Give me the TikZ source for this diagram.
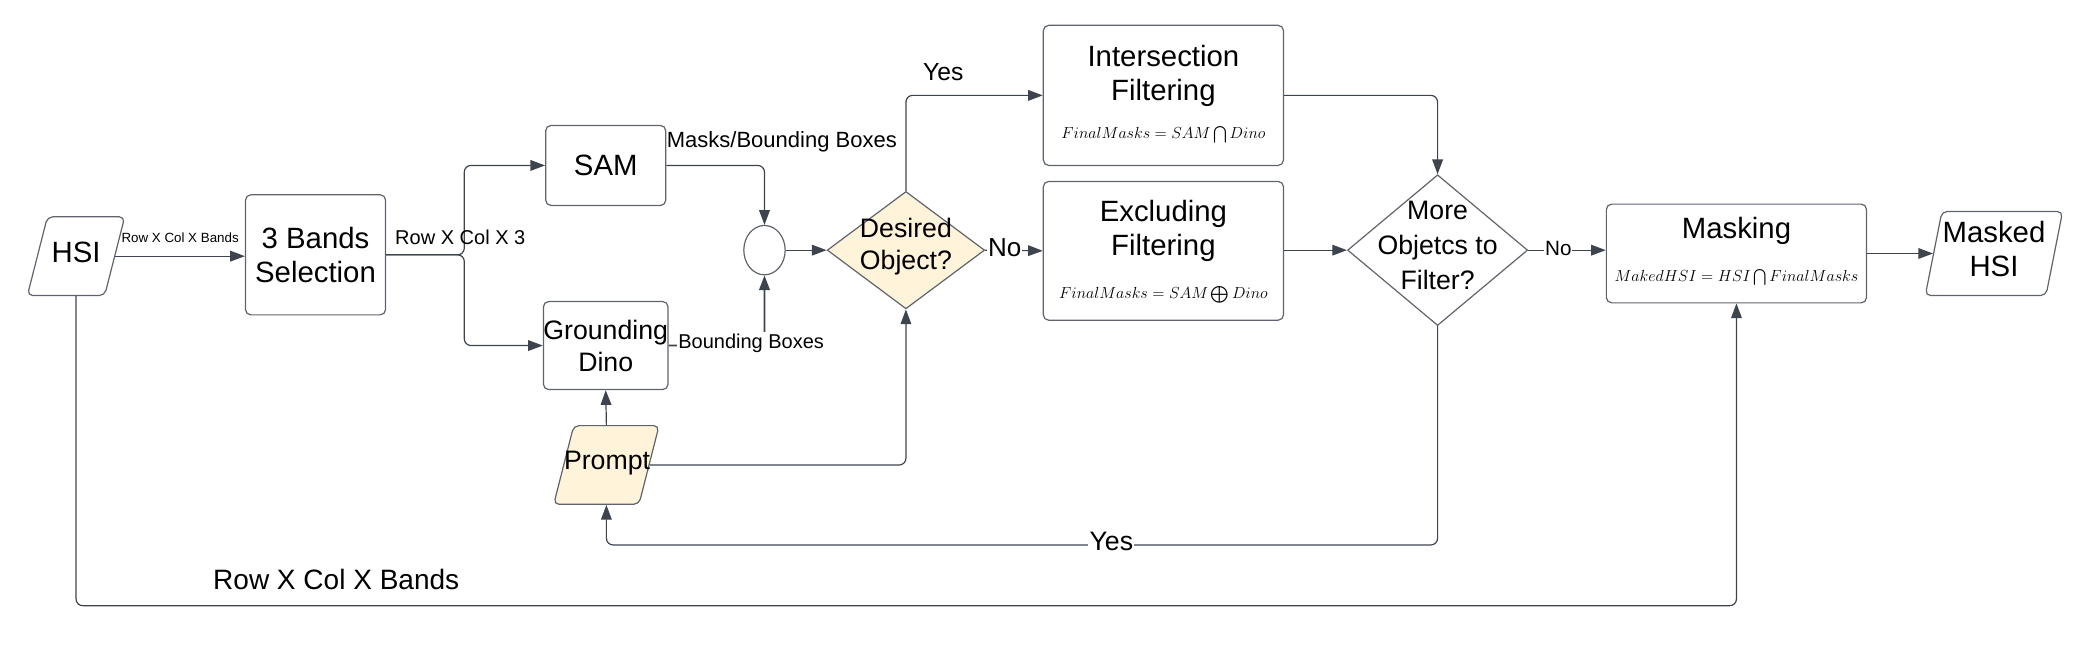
\documentclass[tikz,border=0pt]{standalone}
\usepackage{amsmath}
\usepackage{amssymb}
\usepackage{fontspec}
\setmainfont{Liberation Sans}
\usepackage{xcolor}
\usepackage{tikz}
\usetikzlibrary{arrows.meta,shapes.geometric}

\definecolor{lineGray}{RGB}{62,68,78}
\definecolor{boxGray}{RGB}{95,100,108}
\definecolor{promptFill}{RGB}{255,243,217}

\tikzset{
  box/.style={draw=boxGray, line width=0.9pt, rounded corners=4pt, align=center, inner sep=0pt},
  para/.style={trapezium, draw=boxGray, line width=0.9pt, rounded corners=4pt},
  conn/.style={draw=lineGray, line width=0.9pt, rounded corners=5pt, -{Triangle[length=11pt,width=8pt]}},
  bigtxt/.style={font=\fontsize{22}{25.5}\selectfont},
  midtxt/.style={font=\fontsize{20}{24}\selectfont},
  fml/.style={font=\fontsize{12.5}{14}\selectfont},
}

\begin{document}
\begin{tikzpicture}[x=1pt,y=1pt,yscale=-1,xscale=1]
            \useasboundingbox (0,0) rectangle (1568,486);

            %Shape: Parallelogram
            \node (hsi) at (57,192) [para, trapezium left angle=75.7, trapezium right angle=104.3, inner xsep=21.45pt, inner ysep=29.5pt] {};
            %Shape: Rectangle
            \node (bsel) at (236.5,191) [box, minimum width=105pt, minimum height=90pt, bigtxt] {3 Bands\\Selection};
            %Shape: Rectangle
            \node (sam) at (454,124) [box, minimum width=90pt, minimum height=60pt, bigtxt] {SAM};
            %Shape: Rectangle
            \node (gdino) at (454,259) [box, minimum width=90pt, minimum height=66pt, midtxt] {Grounding\\Dino};
            %Shape: Parallelogram
            \node (prompt) at (454.5,348.5) [para, fill=promptFill, trapezium left angle=75.7, trapezium right angle=104.3, inner xsep=24.45pt, inner ysep=29.5pt] {};
            %Shape: Ellipse
            \node (merge) at (573,187.5) [ellipse, draw=boxGray, line width=0.9pt, minimum width=31pt, minimum height=37pt, inner sep=0pt] {};
            %Shape: Diamond
            \node (dsr) at (679,187.5) [diamond, draw=boxGray, line width=0.9pt, fill=promptFill, minimum width=118pt, minimum height=88pt, inner sep=0pt] {};
            %Shape: Rectangle
            \node (isf) at (872,71.5) [box, minimum width=180pt, minimum height=105pt] {};
            %Shape: Rectangle
            \node (exf) at (872,188) [box, minimum width=180pt, minimum height=104pt] {};
            %Shape: Diamond
            \node (more) at (1077.5,187.5) [diamond, draw=boxGray, line width=0.9pt, fill=white, minimum width=135pt, minimum height=113pt, inner sep=0pt] {};
            %Shape: Rectangle
            \node (mask) at (1301.5,190) [box, minimum width=195pt, minimum height=74pt] {};
            %Shape: Parallelogram
            \node (out) at (1494.5,190) [para, trapezium left angle=78.8, trapezium right angle=101.2, inner xsep=39pt, inner ysep=31.5pt] {};

            % Text Node
            \node (hsiT) at (57,189) [bigtxt] {HSI};
            % Text Node
            \node (promptT) at (455,347) [midtxt] {Prompt};
            % Text Node
            \node (outT) at (1494.5,187) [bigtxt, align=center] {Masked\\HSI};
            % Text Node
            \node (dsrT) at (679,185) [midtxt, align=center] {Desired\\Object?};
            % Text Node
            \node (moreT) at (1077.5,184) [midtxt, align=center, font=\fontsize{20}{26}\selectfont] {More\\Objetcs to\\Filter?};
            % Text Node
            \node (isfT) at (872,57) [bigtxt, align=center] {Intersection\\Filtering};
            % Text Node
            \node (isfF) at (872,101) [fml] {$Final Masks = SAM \bigcap Dino$};
            % Text Node
            \node (exfT) at (872,173) [bigtxt, align=center] {Excluding\\Filtering};
            % Text Node
            \node (exfF) at (872,221) [fml] {$Final Masks = SAM \bigoplus Dino$};
            % Text Node
            \node (maskT) at (1301.5,173) [bigtxt] {Masking};
            % Text Node
            \node (maskF) at (1301.5,208) [fml, font=\fontsize{12}{14}\selectfont] {$Maked HSI = HSI \bigcap Final Masks$};

            %Connectors
            \coordinate (split) at (348,191);
            \draw [conn] (hsi.east |- 0,192) -- (bsel.west |- 0,192);
            \draw [conn] (bsel.east) -- (split) |- (sam.west);
            \draw [conn] (bsel.east) -- (split) |- (gdino.west);
            \draw [conn] (sam.east) -| (merge.north);
            \draw [conn, line width=1.4pt] (gdino.east) -| (merge.south);
            \draw [conn] (merge.east) -- (dsr.west);
            \draw [conn] (dsr.north) |- (isf.west);
            \draw [conn] (dsr.east) -- (exf.west);
            \draw [conn] (prompt.north -| prompt.center) -- (gdino.south);
            \draw [conn] (prompt.east) -| (dsr.south);
            \draw [conn] (isf.east) -| (more.north);
            \draw [conn] (exf.east |- 0,187.5) -- (more.west);
            \draw [conn] (more.east) -- (mask.west |- more.east);
            \draw [conn] (mask.east) -- (out.west |- mask.east);
            \draw [conn] (more.south) -- ++(0,164) -| (prompt.south -| prompt.center);
            \draw [conn] (hsi.south -| hsi.center) -- ++(0,232) -| (mask.south);

            % Text Node
            \node (lblHsi) at (135,178) [font=\fontsize{10}{12}\selectfont] {Row X Col X Bands};
            % Text Node
            \node (lblSel) at (345,178) [font=\fontsize{15}{18}\selectfont] {Row X Col X 3};
            % Text Node
            \node (lblSam) at (586,106) [font=\fontsize{16.5}{19}\selectfont] {Masks/Bounding Boxes};
            % Text Node
            \node (lblDino) at (563,257) [fill=white, inner sep=1pt, font=\fontsize{15}{18}\selectfont] {Bounding Boxes};
            % Text Node
            \node (lblYes) at (707,54) [font=\fontsize{18.5}{22}\selectfont] {Yes};
            % Text Node
            \node (lblNo) at (753,186) [fill=white, inner sep=0.5pt, font=\fontsize{19.5}{22}\selectfont] {No};
            % Text Node
            \node (lblNo2) at (1168,186) [fill=white, inner sep=0.5pt, font=\fontsize{15.5}{18}\selectfont] {No};
            % Text Node
            \node (lblYes2) at (833,406) [fill=white, inner sep=1pt, font=\fontsize{20}{24}\selectfont] {Yes};
            % Text Node
            \node (lblBot) at (252,434) [font=\fontsize{21}{24}\selectfont] {Row X Col X Bands};

\end{tikzpicture}
\end{document}
